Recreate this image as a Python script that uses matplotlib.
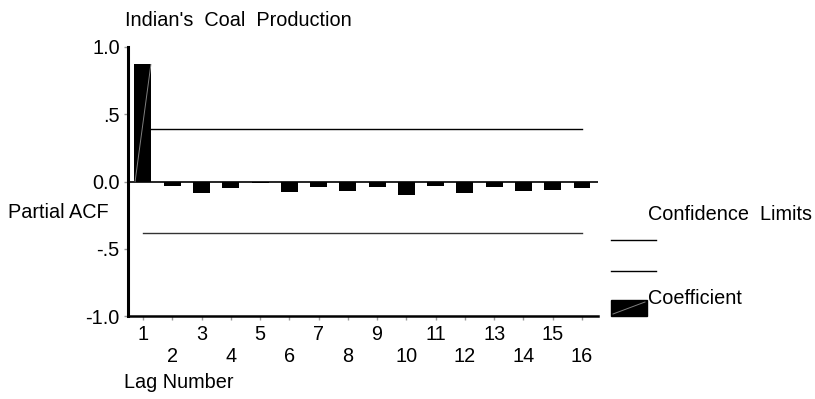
import matplotlib
matplotlib.use("Agg")
import matplotlib.pyplot as plt
from matplotlib.lines import Line2D
from matplotlib.patches import Rectangle

plt.rcParams['font.family'] = ['Liberation Sans', 'DejaVu Sans']

# data
lags = list(range(1, 17))
pacf = [0.87, -0.03, -0.085, -0.05, -0.01, -0.075, -0.04, -0.07,
        -0.04, -0.10, -0.03, -0.085, -0.04, -0.07, -0.06, -0.05]
upper_conf = 0.387
lower_conf = -0.383
yticks = [1.0, 0.5, 0.0, -0.5, -1.0]
ytick_labels = ['1.0', '.5', '0.0', '-.5', '-1.0']

FS = 14.3
W, H = 815, 399
fig = plt.figure(figsize=(W / 100, H / 100), dpi=100)
ax = fig.add_axes([128 / W, (H - 316) / H, (598 - 128) / W, (316 - 47) / H])

ax.set_xlim(0.488, 16.547)
ax.set_ylim(-1.0, 1.0)

ax.bar(lags, pacf, width=0.58, color='black', zorder=3)
# faint diagonal artifact in the first bar
ax.plot([lags[0] - 0.27, lags[0] + 0.27], [0, pacf[0]], color='#808080', lw=0.7, zorder=4)

ax.axhline(0, color='black', lw=1.2, zorder=2)
ax.plot([lags[0], lags[-1]], [upper_conf, upper_conf], color='black', lw=1.0, zorder=1)
ax.plot([lags[0], lags[-1]], [lower_conf, lower_conf], color='#333333', lw=1.0, zorder=1)

for s in ['top', 'right']:
    ax.spines[s].set_visible(False)
ax.spines['left'].set_linewidth(2.2)
ax.spines['bottom'].set_linewidth(1.8)

ax.set_yticks(yticks)
ax.set_yticklabels(ytick_labels, fontsize=FS)
ax.tick_params(axis='y', length=3, width=1, color='#999999', pad=3)

ax.set_xticks(lags)
ax.set_xticklabels([str(l) if l % 2 == 1 else '\n' + str(l) for l in lags],
                   fontsize=FS, linespacing=1.19)
ax.tick_params(axis='x', length=3, width=1, color='#999999', pad=3.5)

fig.text(125 / W, 1 - 21 / H, "Indian's  Coal  Production", fontsize=FS, va='center', ha='left')
fig.text(8 / W, 1 - 212 / H, "Partial ACF", fontsize=FS, va='center', ha='left')
fig.text(124 / W, 1 - 383 / H, "Lag Number", fontsize=FS, va='center', ha='left')

# legend drawn by hand to match the original layout
fig.text(648 / W, 1 - 215 / H, "Confidence  Limits", fontsize=FS, va='center', ha='left')
fig.add_artist(Line2D([611 / W, 656 / W], [1 - 240 / H, 1 - 240 / H], color='black', lw=1.0,
                      transform=fig.transFigure))
fig.add_artist(Line2D([611 / W, 656 / W], [1 - 271 / H, 1 - 271 / H], color='black', lw=1.0,
                      transform=fig.transFigure))
fig.add_artist(Rectangle((611 / W, 1 - 316 / H), 36 / W, 16 / H, color='black',
                         transform=fig.transFigure))
fig.add_artist(Line2D([613 / W, 645 / W], [1 - 314 / H, 1 - 302 / H], color='#808080', lw=0.7,
                      transform=fig.transFigure))
fig.text(648 / W, 1 - 298 / H, "Coefficient", fontsize=FS, va='center', ha='left')

fig.savefig('out.png', dpi=100)
